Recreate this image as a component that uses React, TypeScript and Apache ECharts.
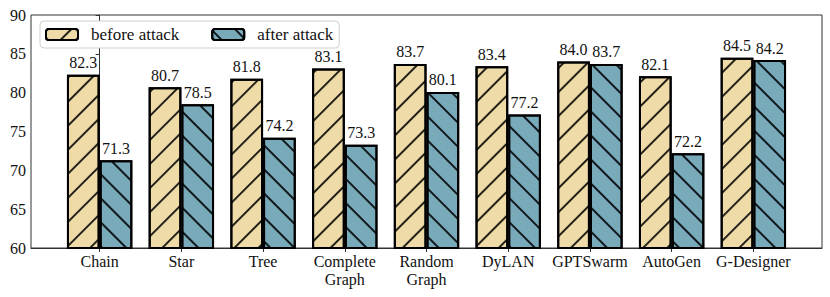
import React, { useEffect, useRef } from "react";
import * as echarts from "echarts";

const categories = ["Chain", "Star", "Tree", "Complete\nGraph", "Random\nGraph", "DyLAN", "GPTSwarm", "AutoGen", "G-Designer"];
const beforeAttack = [82.3, 80.7, 81.8, 83.1, 83.7, 83.4, 84.0, 82.1, 84.5];
const afterAttack = [71.3, 78.5, 74.2, 73.3, 80.1, 77.2, 83.7, 72.2, 84.2];
const yTicks = [60, 65, 70, 75, 80, 85, 90];

const FONT = "serif";

export default function App() {
  const ref = useRef<HTMLDivElement>(null);
  useEffect(() => {
    if (!ref.current) return;
    const chart = echarts.init(ref.current, undefined, { renderer: "svg" });
    const W = 830, left = 31, right = 8;
    const xMin = -0.84, xMax = 8.84;
    const unit = (W - left - right) / (xMax - xMin);
    const barW = 0.4 * unit;
    const idx = categories.map((_, i) => i);
    const hatch = (rot: number) => ({
      symbol: "rect",
      symbolSize: 1,
      dashArrayX: [1, 0],
      dashArrayY: [1.1, 14.5],
      rotation: rot,
      color: "rgba(0,0,0,0.85)",
    });
    const mkSeries = (name: string, vals: number[], off: number, color: string, rot: number) => ({
      name,
      type: "bar",
      barWidth: barW,
      barGap: "-100%",
      data: vals.map((v, i) => [i + off, v]),
      itemStyle: { color, borderColor: "#000", borderWidth: 2, decal: hatch(rot) },
      label: {
        show: true,
        position: "top",
        distance: 4,
        fontFamily: FONT,
        fontSize: 16,
        color: "#111",
        formatter: (p: any) => Number(p.value[1]).toFixed(1),
      },
    });
    chart.setOption({
      animation: false,
      aria: { enabled: false },
      textStyle: { fontFamily: FONT },
      grid: { left, right, top: 15, bottom: 49, show: true, borderColor: "#333", borderWidth: 1 },
      legend: {
        left: 40,
        top: 21,
        padding: [5, 6, 5, 5],
        itemWidth: 32,
        itemHeight: 11,
        itemGap: 32,
        backgroundColor: "#fff",
        borderColor: "#d0d0d0",
        borderWidth: 1,
        borderRadius: 4,
        textStyle: { fontFamily: FONT, fontSize: 17, color: "#111", padding: [0, 0, 0, 8] },
        data: ["before attack", "after attack"],
      },
      xAxis: {
        type: "value",
        min: xMin,
        max: xMax,
        splitLine: { show: false },
        axisLine: { show: true, lineStyle: { color: "#333" } },
        axisTick: { show: true, customValues: idx, length: 4, lineStyle: { color: "#333" } },
        axisLabel: {
          customValues: idx,
          formatter: (v: number) => categories[Math.round(v)] ?? "",
          fontFamily: FONT,
          fontSize: 16,
          color: "#111",
          lineHeight: 18,
          margin: 4,
        },
      },
      yAxis: {
        type: "value",
        min: yTicks[0],
        max: yTicks[yTicks.length - 1],
        interval: 5,
        splitLine: { show: false },
        axisLine: { show: true, lineStyle: { color: "#333" } },
        axisTick: { show: true, length: 4, lineStyle: { color: "#333" } },
        axisLabel: { fontFamily: FONT, fontSize: 16, color: "#111", margin: 5 },
      },
      series: [
        mkSeries("before attack", beforeAttack, -0.2, "#EEDBA8", -Math.PI / 4),
        mkSeries("after attack", afterAttack, 0.2, "#79AABA", Math.PI / 4),
      ],
    });
    return () => chart.dispose();
  }, []);
  return <div ref={ref} style={{ width: 830, height: 297, position: "absolute", left: 0, top: 0 }} />;
}
